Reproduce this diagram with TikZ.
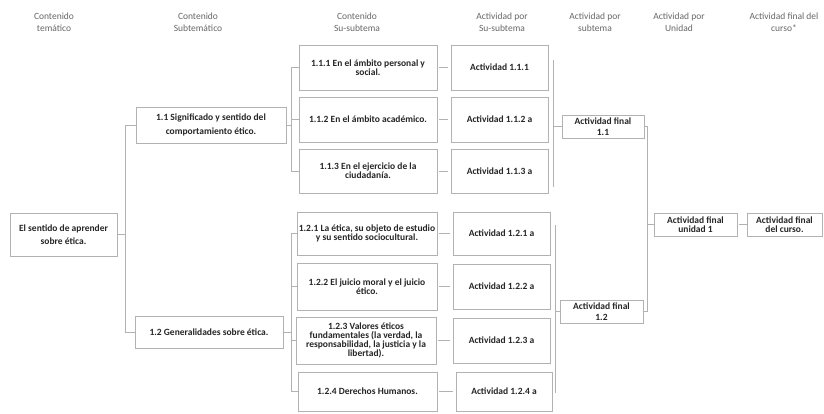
\documentclass[tikz,border=0pt]{standalone}
\usepackage{fontspec}
\setmainfont{Carlito}
\usetikzlibrary{shadows}
\tikzset{
  box/.style={draw=gray!60, line width=0.6pt, fill=white, align=center, inner sep=1pt,
    text=black!85, font=\fontsize{9.5}{9}\selectfont\bfseries,
    drop shadow={shadow xshift=0.8pt, shadow yshift=-0.8pt, fill=gray!20}},
  hdr/.style={align=center, text=black!60, font=\fontsize{9.5}{11.5}\selectfont},
  link/.style={draw=gray!60, line width=0.5pt},
  wide/.style={font=\fontsize{9.5}{13.5}\selectfont\bfseries},
  mid/.style={font=\fontsize{9.5}{11}\selectfont\bfseries},
}
\begin{document}
\begin{tikzpicture}[x=1pt,y=-1pt]
\useasboundingbox (0,0) rectangle (824,413);
% headers
\node[hdr] (h1) at (54,22) {Contenido\\temático};
\node[hdr] (h2) at (198,22) {Contenido\\Subtemático};
\node[hdr] (h3) at (357,22) {Contenido\\Su-subtema};
\node[hdr] (h4) at (502,22) {Actividad por\\Su-subtema};
\node[hdr] (h5) at (595,22) {Actividad por\\subtema};
\node[hdr] (h6) at (679,22) {Actividad por\\Unidad};
\node[hdr] (h7) at (784,22) {Actividad final del\\curso*};
% boxes
\node[box,wide,minimum width=107pt,minimum height=43pt] (root) at (63.5,234.5) {El sentido de aprender\\sobre ética.};
\node[box,wide,minimum width=150pt,minimum height=36pt] (s11) at (211,125) {1.1 Significado y sentido del\\comportamiento ético.};
\node[box,minimum width=148pt,minimum height=32pt] (s12) at (209,332) {1.2 Generalidades sobre ética.};
\node[box,minimum width=138pt,minimum height=45pt] (ss111) at (368,67.5) {1.1.1 En el ámbito personal y\\social.};
\node[box,minimum width=138pt,minimum height=45pt] (ss112) at (368,119.5) {1.1.2 En el ámbito académico.};
\node[box,minimum width=138pt,minimum height=44pt] (ss113) at (368,171) {1.1.3 En el ejercicio de la\\ciudadanía.};
\node[box,minimum width=97pt,minimum height=45pt] (a111) at (499.5,67.5) {Actividad 1.1.1};
\node[box,minimum width=97pt,minimum height=45pt] (a112) at (499.5,119.5) {Actividad 1.1.2 a};
\node[box,minimum width=97pt,minimum height=44pt] (a113) at (499.5,171) {Actividad 1.1.3 a};
\node[box,minimum width=140pt,minimum height=43pt] (ss121) at (367,233.5) {1.2.1 La ética, su objeto de estudio\\y su sentido sociocultural.};
\node[box,minimum width=140pt,minimum height=47pt] (ss122) at (367,286.5) {1.2.2 El juicio moral y el juicio\\ético.};
\node[box,minimum width=140pt,minimum height=47pt] (ss123) at (366,340.5) {1.2.3 Valores éticos\\fundamentales (la verdad, la\\responsabilidad, la justicia y la\\libertad).};
\node[box,minimum width=139pt,minimum height=39pt] (ss124) at (367.5,391.5) {1.2.4 Derechos Humanos.};
\node[box,minimum width=97pt,minimum height=43pt] (a121) at (501.5,233.5) {Actividad 1.2.1 a};
\node[box,minimum width=97pt,minimum height=45pt] (a122) at (501.5,286.5) {Actividad 1.2.2 a};
\node[box,minimum width=97pt,minimum height=45pt] (a123) at (501.5,340.5) {Actividad 1.2.3 a};
\node[box,minimum width=96pt,minimum height=39pt] (a124) at (504,391.5) {Actividad 1.2.4 a};
\node[box,mid,minimum width=82pt,minimum height=23pt] (f11) at (603,126.5) {Actividad final\\1.1};
\node[box,mid,minimum width=83pt,minimum height=23pt] (f12) at (601.5,311.5) {Actividad final\\1.2};
\node[box,minimum width=83pt,minimum height=23pt] (u1) at (695.5,224.5) {Actividad final\\unidad 1};
\node[box,minimum width=75pt,minimum height=23pt] (fc) at (784.5,224.5) {Actividad final\\del curso.};
% root brackets
\draw[link] (root.east) -- ++(8,0) coordinate (r0) |- (s11.west);
\draw[link] (r0) |- (s12.west);
% 1.1 bracket
\draw[link] (ss111.west) -- ++(-7,0) coordinate (l11) |- (ss113.west);
\draw[link] (s11.east) -- (s11.east -| l11);
\draw[link] (ss112.west) -- (ss112.west -| l11);
% 1.2 bracket
\draw[link] (ss121.west) -- ++(-5,0) coordinate (l12) |- (ss124.west);
\draw[link] (s12.east) -- (s12.east -| l12);
\draw[link] (ss122.west) -- (ss122.west -| l12);
\draw[link] (ss123.west) -- (ss123.west -| l12);
% su-subtema to activity
\foreach \p/\q in {ss111/a111,ss112/a112,ss113/a113,ss121/a121,ss122/a122,ss123/a123,ss124/a124}
  \draw[link, shorten <=2pt, shorten >=3pt] (\p) -- (\q);
% activity brackets
\coordinate (q1) at ([xshift=5pt,yshift=-15pt]a111.north east);
\coordinate (q2) at ([yshift=6pt]a113.south);
\draw[link] (q1) -- (q1 |- q2);
\draw[link] (f11.west) -- (f11.west -| q1);
\coordinate (q3) at ([xshift=5pt,yshift=-13pt]a121.north east);
\coordinate (q4) at ([yshift=18pt]a124.south);
\draw[link] (q3) -- (q3 |- q4);
\draw[link] (f12.west) -- (f12.west -| q3);
% final brackets
\draw[link] (f11.east) -- ++(3,0) coordinate (t) |- (f12.east);
\draw[link] (t |- u1.west) -- (u1.west);
\draw[link, shorten <=2pt] (u1) -- (fc);
\end{tikzpicture}
\end{document}
